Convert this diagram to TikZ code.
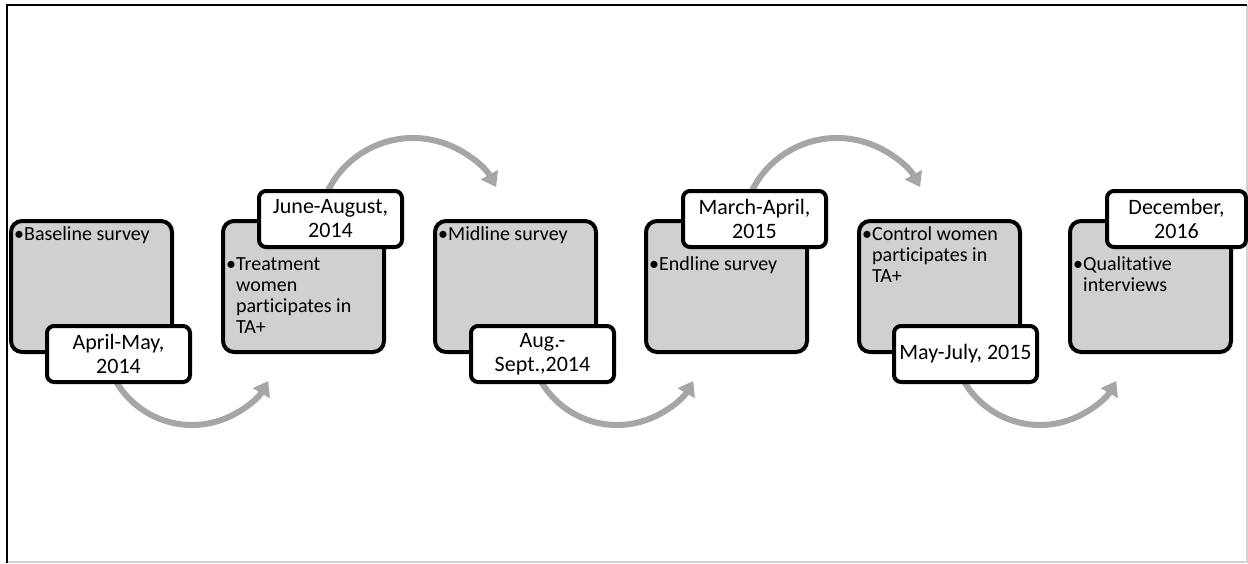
\documentclass[tikz,border=0pt]{standalone}
\usepackage{fontspec}
\setmainfont{Carlito}[Ligatures=NoCommon]
\usetikzlibrary{arrows.meta}
\definecolor{boxgray}{HTML}{D0D0D0}
\definecolor{arrowgray}{HTML}{A6A6A6}
\definecolor{framegray}{HTML}{D2D2D2}
\begin{document}
\begin{tikzpicture}[x=1pt,y=-1pt,
  phase/.style={draw=black, line width=4pt, fill=boxgray, rounded corners=11pt,
    minimum width=161pt, minimum height=131pt, anchor=north west, inner sep=0pt},
  datebox/.style={draw=black, line width=4pt, fill=white, rounded corners=7pt,
    minimum width=143pt, minimum height=56pt, anchor=north west, align=center,
    inner sep=0pt, font=\fontsize{22}{24}\selectfont},
  bodytext/.style={anchor=north west, align=left, inner sep=0pt,
    font=\fontsize{20}{21.2}\selectfont},
  arr/.style={draw=arrowgray, line width=6pt, -{Triangle[width=19pt,length=14pt]}}]
\useasboundingbox (0,0) rectangle (1248,563);
\fill[white] (0,0) rectangle (1248,563);
% frame
\draw[framegray, line width=1.5pt] (1247,5) -- (1247,562) -- (7,562);
\draw[black, line width=2pt] (7,563) -- (7,5) -- (1247,5);
% arc centres
\coordinate (b1) at (192,337);
\coordinate (b2) at (617,337);
\coordinate (b3) at (1040,337);
\coordinate (t1) at (413,233);
\coordinate (t2) at (837,233);
% arrows
\draw[arr] (b1) ++(160:88) arc[start angle=160, end angle=30, radius=88];
\draw[arr] (b2) ++(160:88) arc[start angle=160, end angle=30, radius=88];
\draw[arr] (b3) ++(160:88) arc[start angle=160, end angle=30, radius=88];
\draw[arr] (t1) ++(-160:95) arc[start angle=-160, end angle=-29, radius=95];
\draw[arr] (t2) ++(-160:95) arc[start angle=-160, end angle=-29, radius=95];
% phase boxes
\node[phase] (p1) at (9,219) {};
\node[phase] (p2) at (221,219) {};
\node[phase] (p3) at (433,219) {};
\node[phase] (p4) at (644,219) {};
\node[phase] (p5) at (857,219) {};
\node[phase] (p6) at (1068,219) {};
% phase texts
\node[bodytext] (x1) at (14,226) {•Baseline survey};
\node[bodytext] (x2) at (226,257) {•Treatment\\\phantom{•}women\\\phantom{•}participates in\\\phantom{•}TA+};
\node[bodytext] (x3) at (438,226) {•Midline survey};
\node[bodytext] (x4) at (649,256) {•Endline survey};
\node[bodytext] (x5) at (862,226) {•Control women\\\phantom{•}participates in\\\phantom{•}TA+};
\node[bodytext] (x6) at (1073,256) {•Qualitative\\\phantom{•}interviews};
% date boxes
\node[datebox] (d1) at (45,324) {April-May,\\2014};
\node[datebox] (d2) at (257,189) {June-August,\\2014};
\node[datebox] (d3) at (469,324) {Aug.-\\Sept.,2014};
\node[datebox] (d4) at (681,189) {March-April,\\2015};
\node[datebox] (d5) at (892,324) {May-July, 2015};
\node[datebox, minimum width=139pt] (d6) at (1105,189) {December,\\2016};
\end{tikzpicture}
\end{document}
